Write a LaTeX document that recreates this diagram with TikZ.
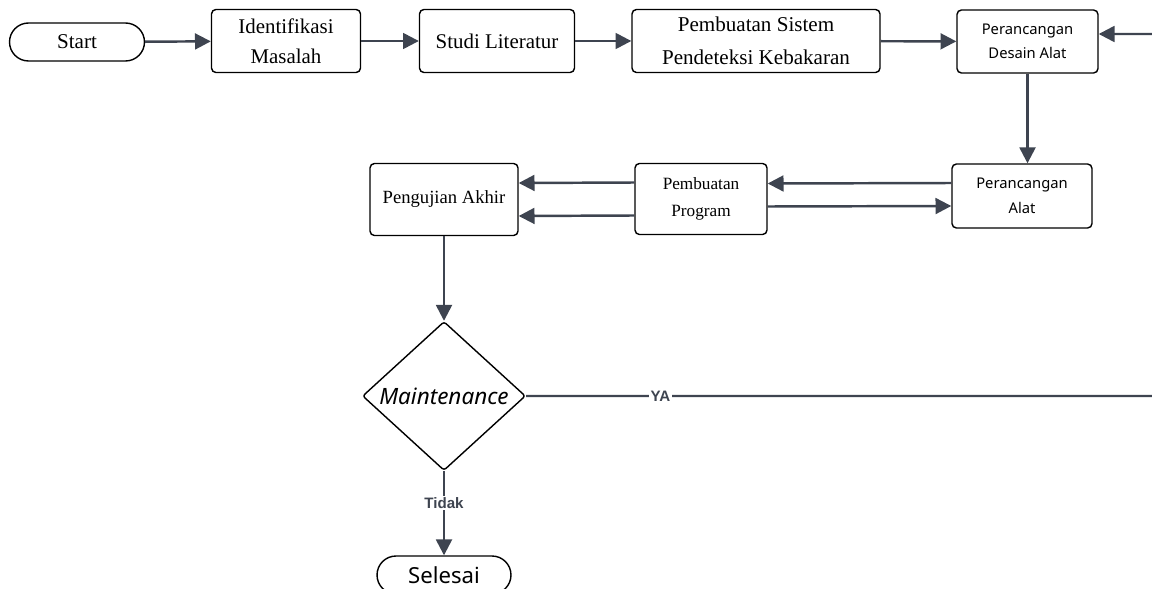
\documentclass[tikz,border=0pt]{standalone}
\usepackage{fontspec}
\setmainfont{Liberation Serif}
\setsansfont{Noto Sans}
\newfontfamily\labelfont{Liberation Sans}
\usetikzlibrary{arrows.meta,shapes.geometric}
\definecolor{GarisAbu}{RGB}{62, 68, 80}

\begin{document}
\begin{tikzpicture}[x=0.02cm,y=-0.02cm,
    kotak/.style={draw=black, line width=0.8pt, rounded corners=2.5pt, align=center, inner sep=1pt},
    ujung/.style={draw=black, line width=0.8pt, rounded corners=0.38cm, minimum height=0.76cm, inner sep=1pt},
    alur/.style={draw=GarisAbu, line width=1.4pt, -{Triangle[length=9pt,width=9pt]}},
    teksalur/.style={fill=white, text=GarisAbu, font=\labelfont\bfseries\fontsize{8.6}{9}\selectfont, inner sep=1pt}]
			\useasboundingbox (0,0) rectangle (1152,588);
			% baris atas
			\node[ujung, minimum width=2.7cm, font=\fontsize{12}{14}\selectfont] (start) at (77,42) {Start};
			\node[kotak, minimum width=2.98cm, minimum height=1.26cm, font=\fontsize{11.9}{17}\selectfont] (identifikasi) at (286,41) {Identifikasi\\Masalah};
			\node[kotak, minimum width=3.1cm, minimum height=1.26cm, font=\fontsize{11.9}{17}\selectfont] (studi) at (497,41) {Studi Literatur};
			\node[kotak, minimum width=4.96cm, minimum height=1.26cm, font=\fontsize{12}{19}\selectfont] (sistem) at (756,41) {Pembuatan Sistem\\Pendeteksi Kebakaran};
			\node[kotak, minimum width=2.82cm, minimum height=1.26cm, font=\sffamily\fontsize{8.4}{13.6}\selectfont] (desain) at (1027.5,41.5) {Perancangan\\Desain Alat};
			% baris tengah
			\node[kotak, minimum width=2.8cm, minimum height=1.28cm, font=\sffamily\fontsize{8.4}{14}\selectfont] (alat) at (1022,196) {Perancangan\\Alat};
			\node[kotak, minimum width=2.64cm, minimum height=1.42cm, font=\fontsize{9.8}{15}\selectfont] (program) at (701,199) {Pembuatan\\Program};
			\node[kotak, minimum width=2.96cm, minimum height=1.44cm, font=\fontsize{10.6}{12}\selectfont] (uji) at (444,199.5) {Pengujian Akhir};
			% keputusan
			\node[diamond, draw=black, line width=0.8pt, rounded corners=1.5pt, inner sep=0pt, minimum width=3.26cm, minimum height=2.98cm, font=\sffamily\itshape\fontsize{12.8}{14}\selectfont] (maint) at (444,396) {Maintenance};
			\node[ujung, minimum width=2.68cm, font=\sffamily\fontsize{12.6}{14}\selectfont] (selesai) at (444,575) {Selesai};
			\coordinate (kanan) at (1165,396);
			\coordinate (kananatas) at (1165,34);

			\draw[alur] (start) -- (identifikasi);
			\draw[alur] (identifikasi) -- (studi);
			\draw[alur] (studi) -- (sistem);
			\draw[alur] (sistem) -- (desain);
			\draw[alur] (desain.south) -- (desain.south |- alat.north);
			\draw[alur] ([yshift=0.26cm]alat.west) -- ([yshift=0.31cm]program.east);
			\draw[alur] ([yshift=-0.15cm]program.east) -- ([yshift=-0.2cm]alat.west);
			\draw[alur] ([yshift=0.33cm]program.west) -- ([yshift=0.33cm]uji.east);
			\draw[alur] ([yshift=-0.33cm]program.west) -- ([yshift=-0.33cm]uji.east);
			\draw[alur] (uji) -- (maint);
			\draw[alur] (maint) -- node[teksalur, pos=0.38] {Tidak} (selesai);
			\draw[alur] (maint.east) -- node[teksalur, pos=0.21] {YA} (kanan) -- (kananatas) -- ([yshift=0.15cm]desain.east);
		\end{tikzpicture}
\end{document}
